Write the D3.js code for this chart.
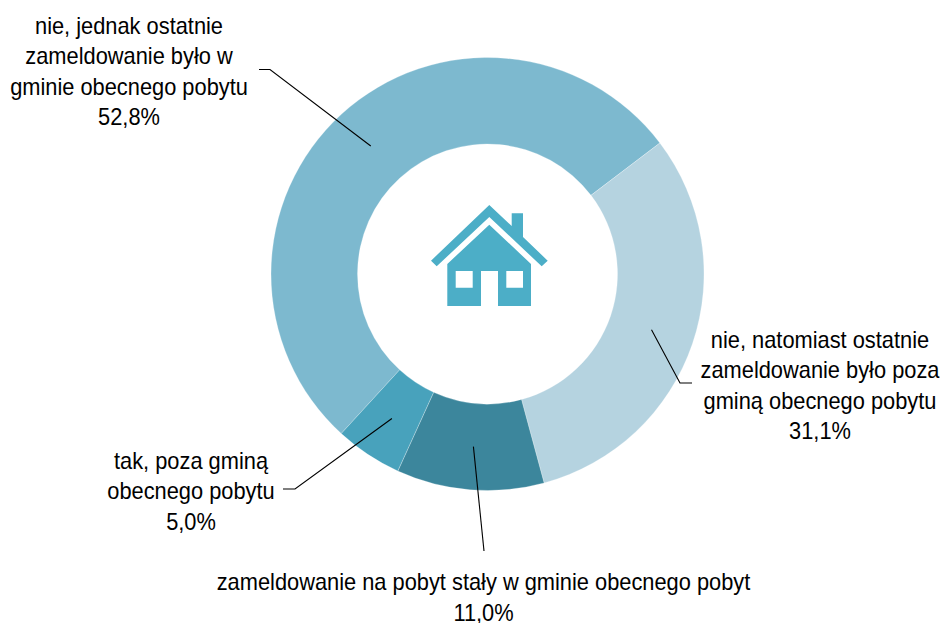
<!DOCTYPE html>
<html><head><meta charset="utf-8">
<script src="https://cdn.jsdelivr.net/npm/d3@7"></script>
<style>html,body{margin:0;padding:0;background:#fff}svg{display:block}text{font-family:"Liberation Sans",Arial,sans-serif;font-size:23.6px;fill:#000;text-anchor:middle}</style>
</head><body><svg id="c" width="943" height="623"></svg>
<script>
const categories = ["nie, jednak ostatnie zameldowanie było w gminie obecnego pobytu","nie, natomiast ostatnie zameldowanie było poza gminą obecnego pobytu","zameldowanie na pobyt stały w gminie obecnego pobyt","tak, poza gminą obecnego pobytu"];
const values = [52.8,31.1,11.0,5.0];
const colors = ["#7DB9CF","#B5D3E0","#3C869C","#48A2BC"];
const labelLines = [
  ["nie, jednak ostatnie","zameldowanie było w","gminie obecnego pobytu"],
  ["nie, natomiast ostatnie","zameldowanie było poza","gminą obecnego pobytu"],
  ["zameldowanie na pobyt stały w gminie obecnego pobyt"],
  ["tak, poza gminą","obecnego pobytu"]
];
const labelX = [129,820,483.5,191];
const labelY = [33.5,347.5,590.3,468.5];
const leaderElbows = [[[270,69.5],[259,69.5]],[[680,383],[692,383]],[[484,551]],[[295,489],[283,489]]];
const cx=487.5, cy=274, R=216.5, r=130, lineH=30.6, squeeze=0.925;
const svg=d3.select("#c");
const fmt=v=>v.toFixed(1).replace(".",",")+"%";
const pie=d3.pie().sort(null).value(d=>d).startAngle(222.5*Math.PI/180).endAngle((222.5+360)*Math.PI/180);
const arc=d3.arc().innerRadius(r).outerRadius(R);
const arcs=pie(values);
const g=svg.append("g").attr("transform",`translate(${cx},${cy})`);
g.selectAll("path").data(arcs).join("path").attr("d",arc).attr("fill",(d,i)=>colors[i]).attr("stroke","#fff").attr("stroke-opacity",.35).attr("stroke-width",.75);
const line=d3.line();
svg.append("g").selectAll("path").data(arcs).join("path")
  .attr("d",(d,i)=>{const c=arc.centroid(d);return line([[c[0]+cx,c[1]+cy],...leaderElbows[i]]);})
  .attr("fill","none").attr("stroke","#000").attr("stroke-width",1.1);
const t=svg.append("g").selectAll("text").data(values).join("text")
  .attr("transform",(d,i)=>`translate(${labelX[i]},${labelY[i]}) scale(${squeeze},1)`);
t.each(function(v,i){
  const el=d3.select(this);
  labelLines[i].concat([fmt(v)]).forEach((s,j)=>el.append("tspan").attr("x",0).attr("y",j*lineH).text(s));
});
// central house icon
const icon="#4CAEC7";
const house=svg.append("g").attr("fill",icon);
house.append("path").attr("d","M489.3 205L511.7 226V213.3H523V237L547.7 260.7L541.7 266.3L489.3 217L436.7 266.3L431 260.7Z");
house.append("path").attr("fill-rule","evenodd").attr("d","M489.3 224.7L531 264V306H498V271H481V306H447.3V264ZM455.7 271V287.7H472.7V271ZM506.3 271V287.7H523V271Z");
</script></body></html>
